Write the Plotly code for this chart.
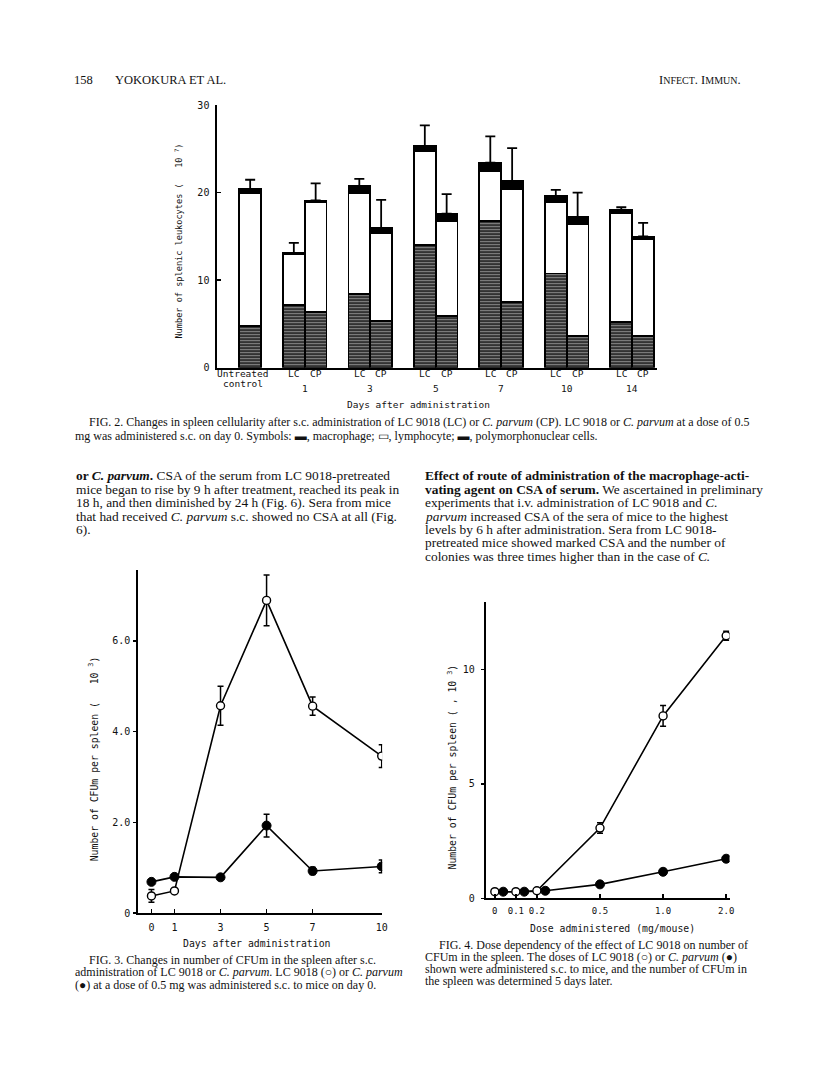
import plotly.graph_objects as go

# ---------------- Fig. 2 data ----------------
fig2_groups = ["Untreated<br>control", "1", "3", "5", "7", "10", "14"]
fig2_agents = ["LC", "CP"]
macrophage = [4.8, 7.2, 6.4, 8.4, 5.3, 14.0, 5.9, 16.8, 7.5, 10.75, 3.6, 5.25, 3.6]
lymphocyte = [15.2, 5.75, 12.5, 11.5, 10.1, 10.8, 10.9, 5.7, 12.9, 8.15, 12.85, 12.4, 11.05]
pmn = [0.42, 0.15, 0.2, 0.87, 0.53, 0.49, 0.79, 0.94, 0.94, 0.72, 0.75, 0.38, 0.34]
leuko_sd = [1.05, 1.15, 1.95, 0.8, 3.25, 2.4, 2.25, 3.0, 3.75, 0.7, 2.8, 0.3, 1.55]
fig2_yticks = [0, 10, 20, 30]
fig2_xtitle = "Days after administration"
fig2_ytitle = "Number of splenic leukocytes (\u00a0\u00a0 10\u00a0<sup>7</sup>)"

# ---------------- Fig. 3 data ----------------
days = [0, 1, 3, 5, 7, 10]
cfu_lc = [0.38, 0.49, 4.57, 6.89, 4.56, 3.46]
cfu_lc_sd = [0.14, 0.0, 0.43, 0.56, 0.2, 0.25]
cfu_cp = [0.69, 0.80, 0.79, 1.93, 0.93, 1.03]
cfu_cp_sd = [0.0, 0.0, 0.0, 0.25, 0.08, 0.14]
fig3_yticks = [0, 2, 4, 6]
fig3_yticktext = ["0", "2.0", "4.0", "6.0"]
fig3_xtitle = "Days after administration"
fig3_ytitle = "Number of CFUm per spleen (\u00a0\u00a0 10\u00a0<sup>3</sup>)"

# ---------------- Fig. 4 data ----------------
doses = ["0", "0.1", "0.2", "0.5", "1.0", "2.0"]
dose_lc = [0.29, 0.29, 0.33, 3.07, 7.97, 11.47]
dose_lc_sd = [0.0, 0.0, 0.0, 0.23, 0.45, 0.2]
dose_cp = [0.29, 0.29, 0.33, 0.61, 1.16, 1.73]
fig4_yticks = [0, 5, 10]
fig4_xtitle = "Dose administered (mg/mouse)"
fig4_ytitle = "Number of CFUm per spleen (\u00a0, 10\u00a0<sup>3</sup>)"

# ---------------- page geometry ----------------
W, H, OFF = 800, 1068, 8
def px(X):
    return (X - OFF) / W
def py(Y):
    return 1 - (Y - OFF) / H

SERIF = "Liberation Serif"
MONO = "DejaVu Sans Mono"
INK = "#111111"

# bar positions (Fig. 2): control alone, then LC/CP pairs
bar_x, bar_agent = [], []
group_center = []
for g, grp in enumerate(fig2_groups):
    if g == 0:
        bar_x.append(0)
        bar_agent.append(None)
        group_center.append(0)
    else:
        xs = [3 * g - 1 + a for a in range(len(fig2_agents))]
        bar_x += xs
        bar_agent += fig2_agents
        group_center.append(sum(xs) / len(xs))
totals = [m + l + p for m, l, p in zip(macrophage, lymphocyte, pmn)]

# dose positions (Fig. 4): first three close together, rest widely spaced
dose_pos = [i if i < 3 else 2 + 3 * (i - 2) for i in range(len(doses))]
dose_pos_cp = [p + 0.4 if i < 3 else p for i, p in enumerate(dose_pos)]

fig = go.Figure()

# ---- Fig. 2 stacked bars ----
fig.add_trace(go.Bar(
    x=bar_x, y=macrophage, width=1, xaxis="x", yaxis="y",
    marker=dict(color="#333333",
                pattern=dict(shape="-", fgcolor="#d8d8d8", bgcolor="#333333",
                             size=3, solidity=0.35, fillmode="overlay"),
                line=dict(color="black", width=1.8)),
))
fig.add_trace(go.Bar(
    x=bar_x, y=lymphocyte, width=1, xaxis="x", yaxis="y",
    marker=dict(color="white", line=dict(color="black", width=1.8)),
))
fig.add_trace(go.Bar(
    x=bar_x, y=pmn, width=1, xaxis="x", yaxis="y",
    marker=dict(color="black", line=dict(color="black", width=1.8)),
))
fig.add_trace(go.Scatter(
    x=bar_x, y=totals, mode="markers", xaxis="x", yaxis="y",
    marker=dict(size=1, color="rgba(0,0,0,0)"),
    error_y=dict(type="data", array=leuko_sd, arrayminus=[0] * len(leuko_sd),
                 symmetric=False, color="black", thickness=1.8, width=5),
))

# ---- Fig. 3 lines ----
open_marker = dict(symbol="circle", size=8, color="white", line=dict(color="black", width=1.4))
fill_marker = dict(symbol="circle", size=9, color="black", line=dict(color="black", width=1))
fig.add_trace(go.Scatter(
    x=days, y=cfu_cp, mode="lines+markers", xaxis="x2", yaxis="y2",
    line=dict(color="black", width=1.6), marker=fill_marker,
    error_y=dict(type="data", array=cfu_cp_sd, color="black", thickness=1.5, width=3),
))
fig.add_trace(go.Scatter(
    x=days, y=cfu_lc, mode="lines+markers", xaxis="x2", yaxis="y2",
    line=dict(color="black", width=1.6), marker=open_marker,
    error_y=dict(type="data", array=cfu_lc_sd, color="black", thickness=1.5, width=3),
))

# ---- Fig. 4 lines ----
fig.add_trace(go.Scatter(
    x=dose_pos_cp, y=dose_cp, mode="lines+markers", xaxis="x3", yaxis="y3",
    line=dict(color="black", width=1.6), marker=fill_marker,
))
fig.add_trace(go.Scatter(
    x=dose_pos, y=dose_lc, mode="lines+markers", xaxis="x3", yaxis="y3",
    line=dict(color="black", width=1.6), marker=open_marker,
    error_y=dict(type="data", array=dose_lc_sd, color="black", thickness=1.5, width=3),
))

axis_common = dict(showline=True, linecolor="black", linewidth=2, showgrid=False,
                   zeroline=False, fixedrange=True,
                   tickfont=dict(family=MONO, size=10, color=INK),
                   tickcolor="black", tickwidth=1.5)

fig.update_layout(
    width=W, height=H, autosize=False,
    margin=dict(l=0, r=0, t=0, b=0, pad=0),
    paper_bgcolor="white", plot_bgcolor="rgba(0,0,0,0)",
    showlegend=False, barmode="stack", bargap=0,
    xaxis=dict(axis_common, domain=[px(219), px(662)], range=[-1.5, 18.64],
               anchor="y", showticklabels=False, ticks=""),
    yaxis=dict(axis_common, domain=[py(366), py(101)], range=[0, 30], anchor="x",
               tickvals=fig2_yticks, ticks="inside", ticklen=4, ticklabelstandoff=4),
    xaxis2=dict(axis_common, domain=[px(139.3), px(385)], range=[-0.57, 10.02],
                anchor="y2", tickvals=days, ticktext=[str(d) for d in days],
                ticks="inside", ticklen=4, ticklabelstandoff=4),
    yaxis2=dict(axis_common, domain=[py(916.7), py(570)], range=[0, 7.565], anchor="x2",
                tickvals=fig3_yticks, ticktext=fig3_yticktext, ticks="outside", ticklen=3,
                ticklabelstandoff=1),
    xaxis3=dict(axis_common, domain=[px(489.3), px(735)], range=[-0.434, 11.16],
                anchor="y3", tickvals=dose_pos, ticktext=doses,
                tickfont=dict(family=MONO, size=9, color=INK),
                ticks="inside", ticklen=4, ticklabelstandoff=3),
    yaxis3=dict(axis_common, domain=[py(901.7), py(602.7)], range=[0, 12.94], anchor="x3",
                tickvals=fig4_yticks, ticks="outside", ticklen=3, ticklabelstandoff=4),
)

ann = []
def text(X, Y, s, size, family=SERIF, anchor="left", angle=0):
    ann.append(dict(x=px(X), y=py(Y), xref="paper", yref="paper", text=s,
                    showarrow=False, xanchor=anchor, yanchor="middle", borderpad=0,
                    textangle=angle, font=dict(family=family, size=size, color=INK)))

# Fig. 2 category labels
for xb, ag in zip(bar_x, bar_agent):
    if ag is not None:
        ann.append(dict(x=xb, y=py(372), xref="x", yref="paper", text=ag, showarrow=False,
                        xanchor="center", yanchor="middle", borderpad=0,
                        font=dict(family=MONO, size=9.5, color=INK)))
for g, grp in enumerate(fig2_groups):
    if g == 0:
        for k, part in enumerate(grp.split("<br>")):
            ann.append(dict(x=group_center[g] - 0.35, y=py(372 + 10.5 * k), xref="x", yref="paper",
                            text=part, showarrow=False, xanchor="center", yanchor="middle",
                            borderpad=0, font=dict(family=MONO, size=9.5, color=INK)))
    else:
        ann.append(dict(x=group_center[g], y=py(387), xref="x", yref="paper", text=grp,
                        showarrow=False, xanchor="center", yanchor="middle", borderpad=0,
                        font=dict(family=MONO, size=9.5, color=INK)))

# axis titles
text(422, 403, fig2_xtitle, 9.5, MONO, "center")
text(180, 238, fig2_ytitle, 8.6, MONO, "center", -90)
text(259, 947, fig3_xtitle, 9.8, MONO, "center")
text(94, 761, fig3_ytitle, 9.8, MONO, "center", -90)
text(617, 932, fig4_xtitle, 9.8, MONO, "center")
text(455, 769, fig4_ytitle, 9.8, MONO, "center", -90)

# running header
text(73, 76, "158", 12.5)
text(115, 76, "YOKOKURA ET AL.", 12.5)
text(748, 76, "I<span style='font-size:10px'>NFECT</span>. I<span style='font-size:10px'>MMUN</span>.",
     12.5, SERIF, "right")

# Fig. 2 caption
text(89, 421, "FIG. 2. Changes in spleen cellularity after s.c. administration of LC 9018 (LC) or "
     "<i>C. parvum</i> (CP). LC 9018 or <i>C. parvum</i> at a dose of 0.5", 12)
text(75, 435, "mg was administered s.c. on day 0. Symbols: \u25ac, macrophage; \u25ad, lymphocyte; "
     "\u25ac, polymorphonuclear cells.", 12)

# left column body
left_lines = [
    "<b>or <i>C. parvum</i>.</b> CSA of the serum from LC 9018-pretreated",
    "mice began to rise by 9 h after treatment, reached its peak in",
    "18 h, and then diminished by 24 h (Fig. 6). Sera from mice",
    "that had received <i>C. parvum</i> s.c. showed no CSA at all (Fig.",
    "6).",
]
for i, s in enumerate(left_lines):
    text(75.5, 475 + 13.6 * i, s, 13.4)

right_lines = [
    "<b>Effect of route of administration of the macrophage-acti-</b>",
    "<b>vating agent on CSA of serum.</b> We ascertained in preliminary",
    "experiments that i.v. administration of LC 9018 and <i>C.</i>",
    "<i>parvum</i> increased CSA of the sera of mice to the highest",
    "levels by 6 h after administration. Sera from LC 9018-",
    "pretreated mice showed marked CSA and the number of",
    "colonies was three times higher than in the case of <i>C.</i>",
]
for i, s in enumerate(right_lines):
    text(426.7, 475 + 13.6 * i, s, 13.4)

# Fig. 3 caption
fig3_cap = [
    (89, "FIG. 3. Changes in number of CFUm in the spleen after s.c."),
    (75, "administration of LC 9018 or <i>C. parvum</i>. LC 9018 (\u25cb) or <i>C. parvum</i>"),
    (75, "(\u25cf) at a dose of 0.5 mg was administered s.c. to mice on day 0."),
]
for i, (x0, s) in enumerate(fig3_cap):
    text(x0, 964 + 12.5 * i, s, 12)

# Fig. 4 caption
fig4_cap = [
    (441, "FIG. 4. Dose dependency of the effect of LC 9018 on number of"),
    (427, "CFUm in the spleen. The doses of LC 9018 (\u25cb) or <i>C. parvum</i> (\u25cf)"),
    (427, "shown were administered s.c. to mice, and the number of CFUm in"),
    (427, "the spleen was determined 5 days later."),
]
for i, (x0, s) in enumerate(fig4_cap):
    text(x0, 949 + 12.2 * i, s, 12)

fig.update_layout(annotations=ann)
fig.write_html("out.html", config={"displayModeBar": False, "staticPlot": True})
